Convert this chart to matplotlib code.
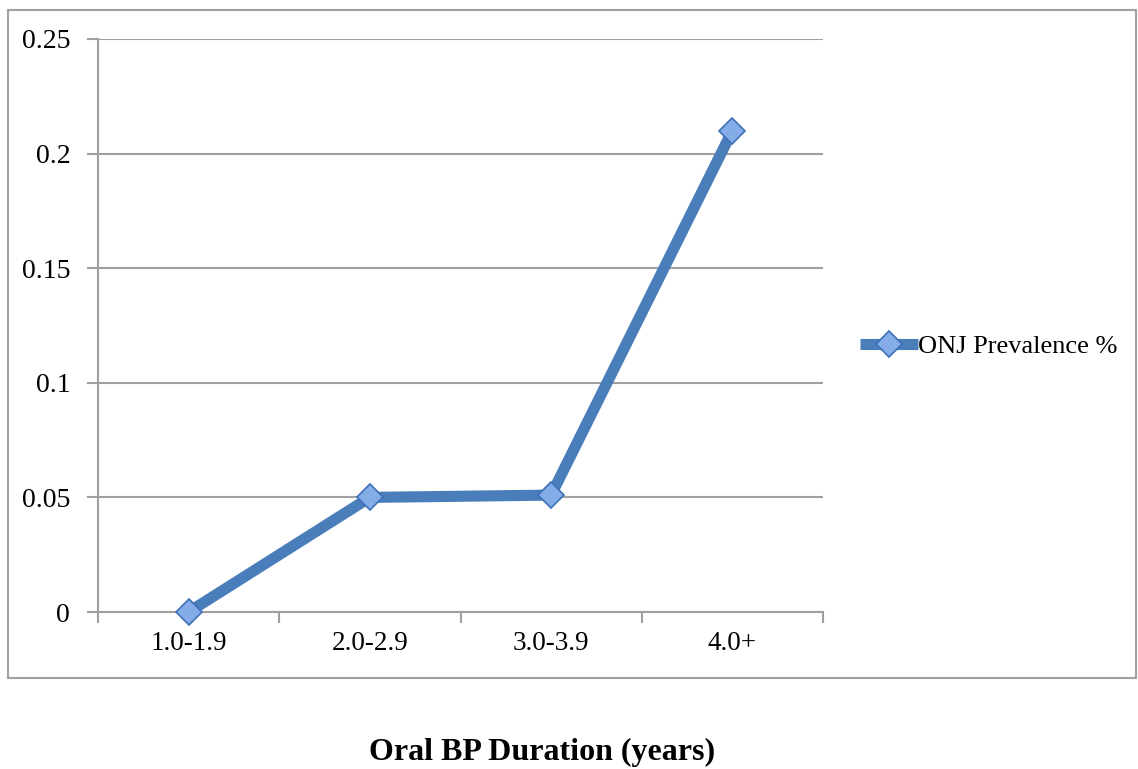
import matplotlib
matplotlib.use("Agg")
import matplotlib.pyplot as plt
from matplotlib.patches import Rectangle

categories = ["1.0-1.9", "2.0-2.9", "3.0-3.9", "4.0+"]
prevalence = [0.0, 0.05, 0.051, 0.21]
yticks = [0, 0.05, 0.1, 0.15, 0.2, 0.25]
ytick_labels = ["0", "0.05", "0.1", "0.15", "0.2", "0.25"]
series_name = "ONJ Prevalence %"
xlabel = "Oral BP Duration (years)"

plt.rcParams['font.family'] = ['Liberation Serif', 'DejaVu Serif']

W, H = 1138, 769
fig = plt.figure(figsize=(W / 100, H / 100), dpi=100)
ax = fig.add_axes([98 / W, 1 - 612 / H, (823 - 98) / W, (612 - 39) / H])

grid_c = "#a0a0a0"
line_c = "#4a7ebb"

x = list(range(len(categories)))
ax.plot(x, prevalence, color=line_c, lw=8, solid_capstyle='butt', zorder=3, clip_on=False,
        marker='D', markersize=13, markerfacecolor="#84ade8", markeredgecolor="#3d70b6",
        markeredgewidth=1.2, label=series_name)

ax.set_xlim(-0.5, len(categories) - 0.5)
ax.set_ylim(0, 0.25)
ax.set_yticks(yticks)
ax.set_yticklabels(ytick_labels)
ax.set_xticks(x)
ax.set_xticklabels(categories)
ax.set_xticks([i - 0.5 for i in range(len(categories) + 1)], minor=True)
ax.tick_params(axis='x', which='major', length=0, pad=14, labelsize=19.5)
ax.tick_params(axis='x', which='minor', length=8, color=grid_c, width=1.5, direction='out')
ax.tick_params(axis='y', length=8, color=grid_c, width=1.5, pad=12, labelsize=20)
ax.yaxis.grid(True, color=grid_c, lw=1.5)
ax.set_axisbelow(True)
for s in ['top', 'right']:
    ax.spines[s].set_visible(False)
for s in ['left', 'bottom']:
    ax.spines[s].set_color(grid_c)
    ax.spines[s].set_linewidth(1.5)

leg = fig.legend(loc='center left', bbox_to_anchor=(860 / W, 1 - 346 / H), frameon=False,
                 fontsize=19, handlelength=2.2, handletextpad=0.0, borderaxespad=0,
                 borderpad=0)

fig.add_artist(Rectangle((8 / W, 1 - 678 / H), (1136 - 8) / W, (678 - 10) / H,
                         transform=fig.transFigure, fill=False, edgecolor="#a0a0a0", lw=1.5))

fig.text(542 / W, 1 - 752 / H, xlabel, ha='center', va='center', fontsize=23, fontweight='bold')

fig.savefig("out.png", dpi=100)
